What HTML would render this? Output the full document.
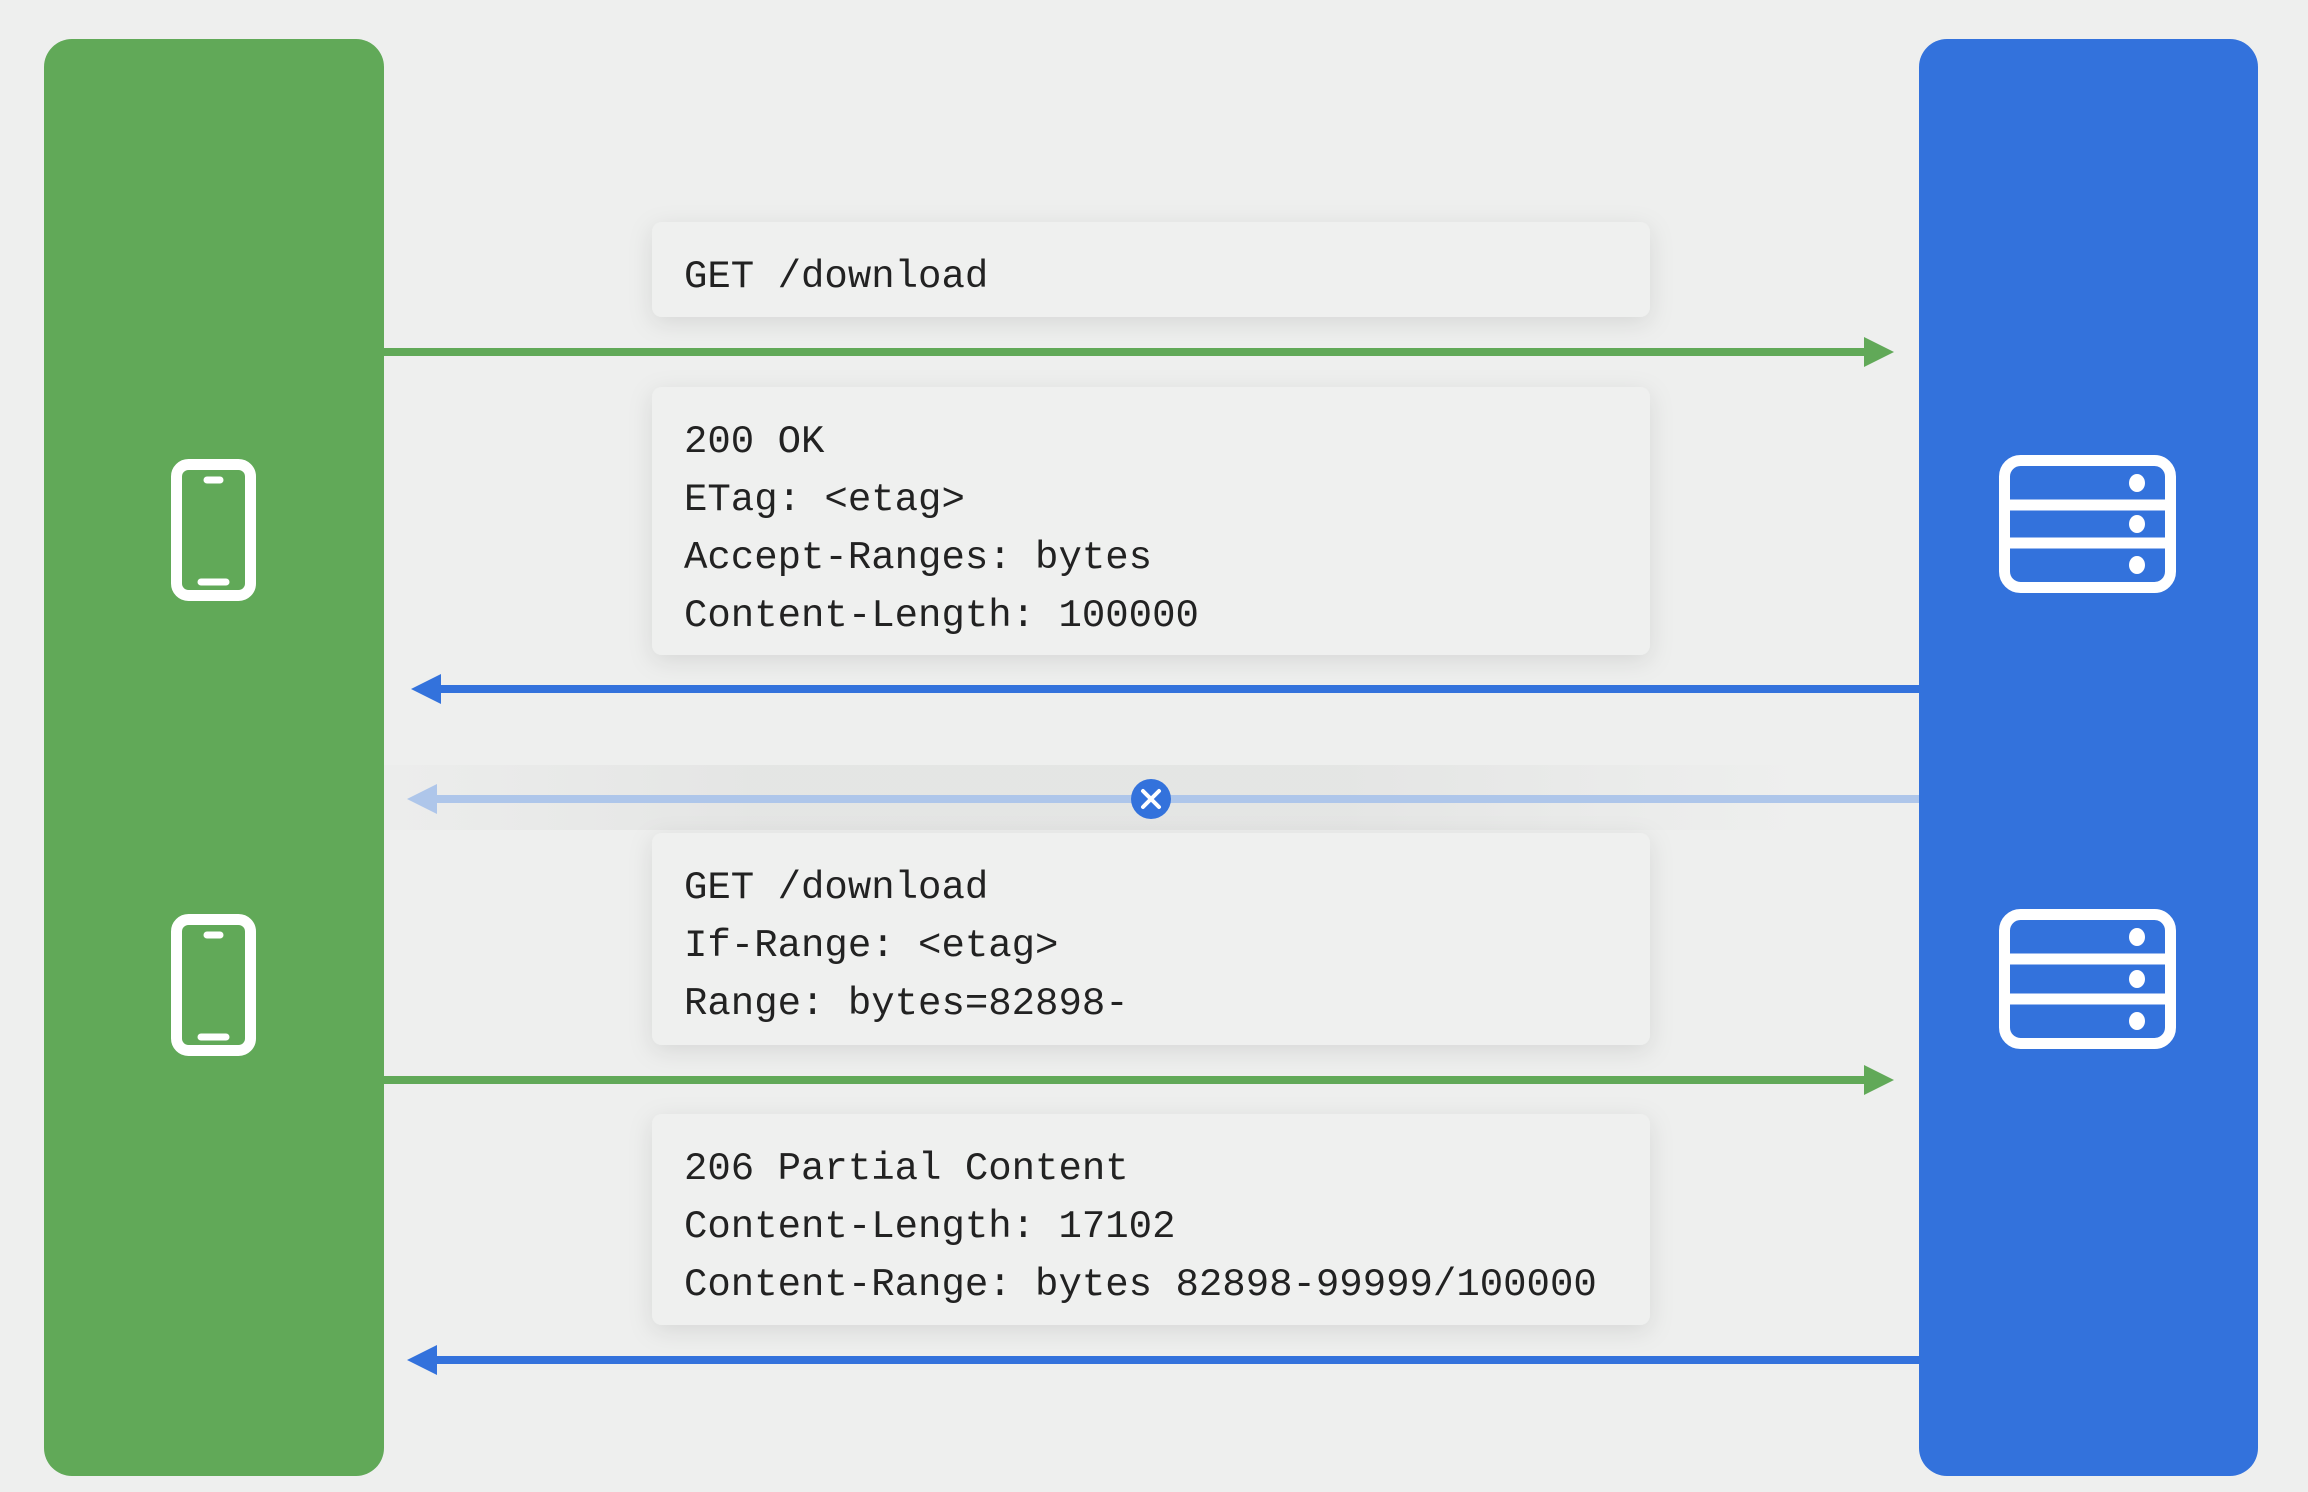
<!DOCTYPE html>
<html><head><meta charset="utf-8"><style>
html,body{margin:0;padding:0;background:#eeefee;}
svg{display:block}
text{font-family:"Liberation Mono",monospace;font-size:39px;fill:#222;}
</style></head><body>
<svg width="2308" height="1492" viewBox="0 0 2308 1492" xmlns="http://www.w3.org/2000/svg">
<defs>
<filter id="sh" x="-10%" y="-30%" width="120%" height="160%"><feDropShadow dx="0" dy="6" stdDeviation="12" flood-color="#000" flood-opacity="0.10"/></filter>
<linearGradient id="band" x1="0" x2="1" y1="0" y2="0">
<stop offset="0" stop-color="#e2e3e2" stop-opacity="0"/><stop offset="0.3" stop-color="#e2e3e2" stop-opacity="0.8"/><stop offset="0.7" stop-color="#e2e3e2" stop-opacity="0.8"/><stop offset="1" stop-color="#e2e3e2" stop-opacity="0"/></linearGradient>
</defs>
<rect width="2308" height="1492" fill="#eeefee"/>
<rect x="300" y="765" width="1500" height="65" fill="url(#band)"/>
<!-- panels -->
<rect x="44" y="39" width="340" height="1437" rx="28" fill="#61a958"/>
<rect x="1919" y="39" width="339" height="1437" rx="28" fill="#3372dc"/>
<!-- boxes -->
<g fill="#eff0ef" filter="url(#sh)">
<rect x="652" y="222" width="998" height="95" rx="10"/>
<rect x="652" y="387" width="998" height="268" rx="10"/>
<rect x="652" y="833" width="998" height="212" rx="10"/>
<rect x="652" y="1114" width="998" height="211" rx="10"/>
</g>
<text x="684" y="287">GET /download</text>
<text x="684" y="452">200 OK</text>
<text x="684" y="510">ETag: &lt;etag&gt;</text>
<text x="684" y="568">Accept-Ranges: bytes</text>
<text x="684" y="626">Content-Length: 100000</text>
<text x="684" y="898">GET /download</text>
<text x="684" y="956">If-Range: &lt;etag&gt;</text>
<text x="684" y="1014">Range: bytes=82898-</text>
<text x="684" y="1179">206 Partial Content</text>
<text x="684" y="1237">Content-Length: 17102</text>
<text x="684" y="1295">Content-Range: bytes 82898-99999/100000</text>
<!-- arrows -->
<rect x="384" y="348" width="1482" height="8" fill="#61a958"/>
<polygon points="1864,337 1894,352 1864,367" fill="#61a958"/>
<rect x="440" y="685" width="1479" height="8" fill="#3372dc"/>
<polygon points="441,674 411,689 441,704" fill="#3372dc"/>
<rect x="435" y="795" width="1484" height="8" fill="#aec6ea"/>
<polygon points="437,784 407,799 437,814" fill="#aec6ea"/>
<circle cx="1151" cy="799" r="20" fill="#3372dc"/>
<path d="M1143,791 L1159,807 M1159,791 L1143,807" stroke="#fff" stroke-width="4" stroke-linecap="round"/>
<rect x="384" y="1076" width="1482" height="8" fill="#61a958"/>
<polygon points="1864,1065 1894,1080 1864,1095" fill="#61a958"/>
<rect x="436" y="1356" width="1483" height="8" fill="#3372dc"/>
<polygon points="437,1345 407,1360 437,1375" fill="#3372dc"/>
<!-- phones -->
<g fill="none" stroke="#fff" stroke-width="11">
<rect x="176.5" y="464.5" width="74" height="131" rx="12"/>
<rect x="176.5" y="919.5" width="74" height="131" rx="12"/>
</g>
<g stroke="#fff" stroke-width="7" stroke-linecap="round">
<line x1="207" y1="480" x2="220" y2="480"/><line x1="201" y1="582" x2="226" y2="582"/>
<line x1="207" y1="935" x2="220" y2="935"/><line x1="201" y1="1037" x2="226" y2="1037"/>
</g>
<!-- servers -->
<g fill="none" stroke="#fff" stroke-width="11">
<rect x="2004.5" y="460.5" width="166" height="127" rx="16"/>
<line x1="2004" y1="505" x2="2171" y2="505"/><line x1="2004" y1="543" x2="2171" y2="543"/>
<rect x="2004.5" y="914.5" width="166" height="129" rx="16"/>
<line x1="2004" y1="959" x2="2171" y2="959"/><line x1="2004" y1="999" x2="2171" y2="999"/>
</g>
<g fill="#fff">
<ellipse cx="2137" cy="483" rx="8" ry="9"/><ellipse cx="2137" cy="524" rx="8" ry="9"/><ellipse cx="2137" cy="565" rx="8" ry="9"/>
<ellipse cx="2137" cy="937" rx="8" ry="9"/><ellipse cx="2137" cy="979" rx="8" ry="9"/><ellipse cx="2137" cy="1021" rx="8" ry="9"/>
</g>
</svg>
</body></html>
